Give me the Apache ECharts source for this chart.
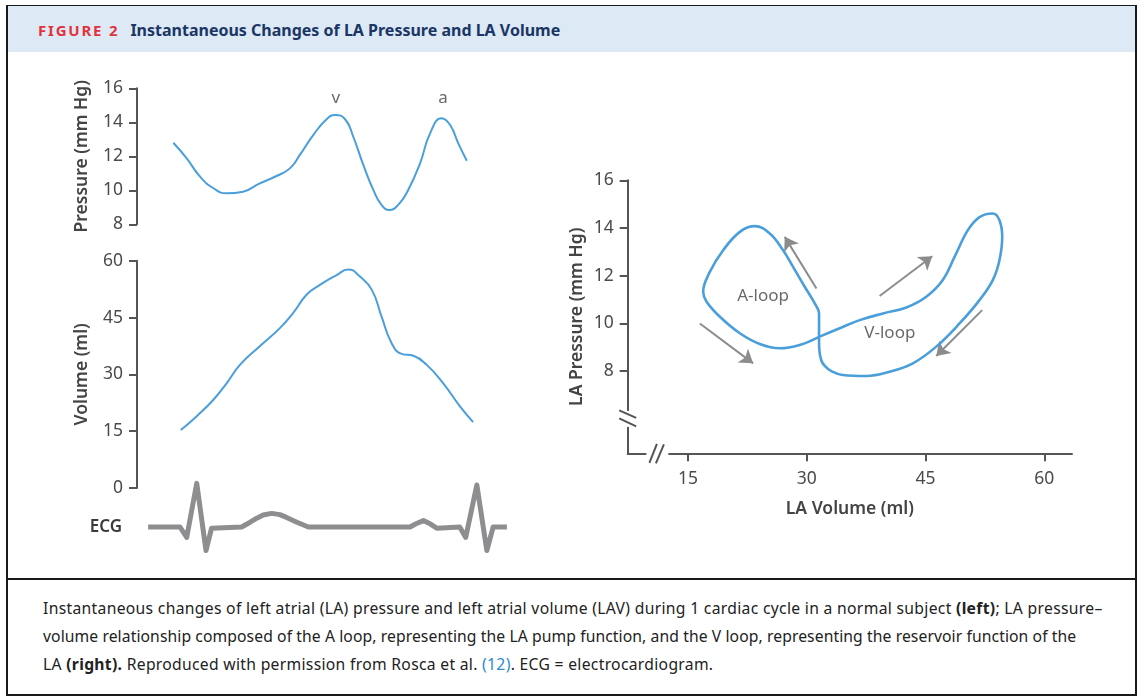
<!DOCTYPE html>
<html>
<head>
<meta charset="utf-8">
<script src="https://cdn.jsdelivr.net/npm/echarts@6.0.0/dist/echarts.min.js"></script>
<style>
html,body{margin:0;padding:0;background:#fff;width:1143px;height:699px;overflow:hidden;font-family:"Noto Sans",sans-serif;}
#frame{position:absolute;left:6px;top:5px;width:1127px;height:688px;border:2px solid #1a1a1a;border-top-width:1.5px;}
#band{position:absolute;left:0;top:0;right:0;height:45.5px;background:#dde9f5;}
#title{position:absolute;left:30px;top:0;height:45px;line-height:48px;white-space:nowrap;}
#fig{color:#e2323c;font-weight:700;font-size:15px;letter-spacing:1.8px;margin-right:11px;}
#ttl{color:#1b3665;font-weight:700;font-size:16px;}
#sep{position:absolute;left:0;right:0;top:572px;height:2px;background:#1a1a1a;}
#caption{position:absolute;left:35px;top:588px;font-size:15.7px;line-height:28px;color:#222;white-space:nowrap;}
#caption div{height:28px;}
#caption .l1{letter-spacing:0.31px;}
#caption .l2{letter-spacing:0.09px;}
#caption .l3{letter-spacing:0.30px;}
#caption b{font-weight:700;}
#caption .ref{color:#2b8ccc;}
#chart{position:absolute;left:0;top:0;width:1143px;height:699px;z-index:2;}
</style>
</head>
<body>
<div id="frame">
  <div id="band"><div id="title"><span id="fig">FIGURE 2</span><span id="ttl">Instantaneous Changes of LA Pressure and LA Volume</span></div></div>
  <div id="sep"></div>
  <div id="caption">
    <div class="l1">Instantaneous changes of left atrial (LA) pressure and left atrial volume (LAV) during 1 cardiac cycle in a normal subject <b>(left)</b>; LA pressure–</div>
    <div class="l2">volume relationship composed of the A loop, representing the LA pump function, and the V loop, representing the reservoir function of the</div>
    <div class="l3">LA <b>(right).</b> Reproduced with permission from Rosca et al. <span class="ref">(12)</span>. ECG = electrocardiogram.</div>
  </div>
</div>
<div id="chart"></div>
<script>
// ---- Left panel: time course over one cardiac cycle (time in ms) ----
const pressureTime = [98,134,170,206,242,286,331,376,412,439,475,511,534,561,583,610,637,659,680,704,731,763,790,821,844,866,889];
const pressureValues = [12.8,11.88,10.8,10.12,9.82,9.92,10.41,10.84,11.29,12.08,13.25,14.18,14.43,14.18,13.15,11.49,10.02,9.14,8.84,9.14,10.02,11.59,13.35,14.24,13.84,12.76,11.74];

const volumeTime = [118,161,206,242,278,331,385,421,457,493,538,569,601,633,659,686,713,745,781,825,870,906];
const volumeValues = [15.3,18.95,23.3,27.7,32.55,37.4,42.2,46.2,51.0,53.6,56.2,57.7,55.8,52.3,45.3,38.3,35.4,34.9,32.5,27.7,21.6,17.4];

const ecgTime = [30,116,134,161,186,201,282,305,323,340,363,385,403,431,462,736,752,772,790,808,870,886,916,943,960,997];
const ecgValues = [0,0,-0.26,1.09,-0.59,-0.03,0,0.12,0.22,0.3,0.34,0.31,0.24,0.12,0,0,0.08,0.16,0.08,-0.03,0,-0.26,1.05,-0.59,0,0];

const peakNames = ['v','a'];
const peakTime = [536,825];
const peakLevel = [15.43,15.43];

const pressureTickInterval = 2;
const volumeTickInterval = 15;

// ---- Right panel: LA pressure-volume loop ----
const loopVolume = [31.56,34.17,36.69,39.63,42.58,45.10,47.19,48.67,50.35,51.82,53.50,54.34,54.69,54.34,53.50,51.82,49.30,46.36,43.41,40.47,37.53,34.55,33.16,32.28,31.83,31.58,31.56,31.56,31.02,29.75,28.28,27.02,25.34,23.45,21.56,19.45,17.77,16.93,17.36,19.04,21.56,24.08,26.60,29.12,31.56];
const loopPressure = [9.44,9.80,10.14,10.42,10.67,11.12,11.82,12.79,13.91,14.46,14.61,14.33,13.63,12.65,11.82,10.98,10.00,9.03,8.33,7.98,7.80,7.84,7.99,8.22,8.47,8.97,9.44,10.42,10.84,11.54,12.37,13.07,13.77,14.08,13.84,13.07,12.16,11.33,10.91,10.28,9.59,9.14,8.96,9.10,9.44];

const arrowFromVolume = [16.51,31.23,39.21,52.16];
const arrowFromPressure = [10.00,11.47,11.15,10.56];
const arrowToVolume = [23.24,27.23,45.86,46.36];
const arrowToPressure = [8.33,13.63,12.82,8.64];

const loopNames = ['A-loop','V-loop'];
const loopNameVolume = [24.5,40.5];
const loopNamePressure = [11.15,9.6];

const loopVolumeTicks = [15,30,45,60];
const loopPressureTicks = [8,10,12,14,16];
const volumeBreak = 11.15;
const pressureBreak = 6.0;

// ---- styles ----
const BLUE = '#4a9fdb';
const AXIS = '#555555';
const FONT = '"Noto Sans", sans-serif';
const axisLineStyle = {show:true, lineStyle:{color:AXIS, width:2}};
const tickStyle = {show:true, length:8, lineStyle:{color:AXIS, width:2}};
const labelStyle = {color:'#4a4a4a', fontSize:17.5, fontFamily:FONT, margin:14};
const nameStyle = {color:'#444', fontSize:17.5, fontWeight:600, fontFamily:FONT};

const zip = (a,b) => a.map((v,i)=>[v,b[i]]);

const chart = echarts.init(document.getElementById('chart'), null, {renderer:'canvas'});
const option = {
  animation:false,
  grid:[
    {left:137, top:88.3, width:371, height:136, outerBoundsMode:'none'},
    {left:137, top:260.7, width:371, height:227.3, outerBoundsMode:'none'},
    {left:137, top:467, width:371, height:120, outerBoundsMode:'none'},
    {left:627.7, top:180.3, width:444.3, height:273, outerBoundsMode:'none'}
  ],
  xAxis:[
    {gridIndex:0, type:'value', min:0, max:1000, show:false},
    {gridIndex:1, type:'value', min:0, max:1000, show:false},
    {gridIndex:2, type:'value', min:0, max:1000, show:false},
    {gridIndex:3, type:'value', min:7.4, max:63.5,
     axisLine:{show:true, onZero:false, lineStyle:{color:AXIS, width:2}},
     axisTick:Object.assign({customValues:loopVolumeTicks}, tickStyle),
     axisLabel:Object.assign({customValues:loopVolumeTicks}, labelStyle, {margin:17}),
     splitLine:{show:false},
     name:'LA Volume (ml)', nameLocation:'middle', nameGap:47, nameTextStyle:nameStyle}
  ],
  yAxis:[
    {gridIndex:0, type:'value', min:8, max:16, interval:pressureTickInterval,
     axisLine:axisLineStyle, axisTick:tickStyle, axisLabel:labelStyle, splitLine:{show:false},
     name:'Pressure (mm Hg)', nameLocation:'middle', nameRotate:90, nameGap:46, nameTextStyle:nameStyle},
    {gridIndex:1, type:'value', min:0, max:60, interval:volumeTickInterval,
     axisLine:axisLineStyle, axisTick:tickStyle, axisLabel:labelStyle, splitLine:{show:false},
     name:'Volume (ml)', nameLocation:'middle', nameRotate:90, nameGap:46, nameTextStyle:nameStyle},
    {gridIndex:2, type:'value', min:-1.5, max:1.5,
     axisLine:{show:false}, axisTick:{show:false}, axisLabel:{show:false}, splitLine:{show:false},
     name:'ECG', nameLocation:'middle', nameRotate:0, nameGap:15,
     nameTextStyle:{color:'#3a3a3a', fontSize:17, fontWeight:600, fontFamily:FONT}},
    {gridIndex:3, type:'value', min:4.56, max:16,
     axisLine:{show:true, onZero:false, lineStyle:{color:AXIS, width:2}},
     axisTick:Object.assign({customValues:loopPressureTicks}, tickStyle),
     axisLabel:Object.assign({customValues:loopPressureTicks}, labelStyle),
     splitLine:{show:false},
     name:'LA Pressure (mm Hg)', nameLocation:'middle', nameRotate:90, nameGap:42, nameTextStyle:nameStyle}
  ],
  series:[
    {type:'line', xAxisIndex:0, yAxisIndex:0, data:zip(pressureTime, pressureValues), smooth:0.5,
     showSymbol:false, lineStyle:{color:BLUE, width:2}},
    {type:'scatter', xAxisIndex:0, yAxisIndex:0, symbolSize:1, itemStyle:{color:'rgba(0,0,0,0)'},
     data:peakNames.map((n,i)=>({name:n, value:[peakTime[i], peakLevel[i]]})),
     label:{show:true, position:'inside', formatter:'{b}', color:'#444', fontSize:17, fontFamily:FONT}},
    {type:'line', xAxisIndex:1, yAxisIndex:1, data:zip(volumeTime, volumeValues), smooth:0.5,
     showSymbol:false, lineStyle:{color:BLUE, width:2}},
    {type:'line', xAxisIndex:2, yAxisIndex:2, data:zip(ecgTime, ecgValues), smooth:false,
     showSymbol:false, lineStyle:{color:'#8e8e91', width:5, join:'round', cap:'butt'}},
    {type:'line', xAxisIndex:3, yAxisIndex:3, data:zip(loopVolume, loopPressure), smooth:0.4,
     showSymbol:false, lineStyle:{color:BLUE, width:2.6}},
    {type:'lines', coordinateSystem:'cartesian2d', xAxisIndex:3, yAxisIndex:3,
     symbol:['none','arrow'], symbolSize:[10,13],
     lineStyle:{color:'#8c8c8c', width:2, opacity:1, curveness:0},
     data:arrowFromVolume.map((v,i)=>({coords:[[v, arrowFromPressure[i]],[arrowToVolume[i], arrowToPressure[i]]]}))},
    {type:'scatter', xAxisIndex:3, yAxisIndex:3, symbolSize:1, itemStyle:{color:'rgba(0,0,0,0)'},
     data:loopNames.map((n,i)=>({name:n, value:[loopNameVolume[i], loopNamePressure[i]]})),
     label:{show:true, position:'inside', formatter:'{b}', color:'#444', fontSize:17, fontFamily:FONT}}
  ]
};
chart.setOption(option);

// axis break marks on the loop chart, positioned from the axis scales
const xb = chart.convertToPixel({gridIndex:3}, [volumeBreak, 4.56]);
const yb = chart.convertToPixel({gridIndex:3}, [7.4, pressureBreak]);
const slashStyle = {stroke:AXIS, lineWidth:2};
chart.setOption({graphic:[
  {type:'rect', shape:{x:yb[0]-4, y:yb[1]-8, width:8, height:16}, style:{fill:'#fff'}, z:100},
  {type:'line', shape:{x1:yb[0]-8.5, y1:yb[1]-8.5, x2:yb[0]+8.5, y2:yb[1]-1}, style:slashStyle, z:101},
  {type:'line', shape:{x1:yb[0]-8.5, y1:yb[1]-0.5, x2:yb[0]+8.5, y2:yb[1]+7.5}, style:slashStyle, z:101},
  {type:'rect', shape:{x:xb[0]-11, y:xb[1]-4, width:22, height:8}, style:{fill:'#fff'}, z:100},
  {type:'line', shape:{x1:xb[0]-8, y1:xb[1]+9.5, x2:xb[0]-0.5, y2:xb[1]-9.5}, style:slashStyle, z:101},
  {type:'line', shape:{x1:xb[0]-1.5, y1:xb[1]+10, x2:xb[0]+6.5, y2:xb[1]-9}, style:slashStyle, z:101}
]});
</script>
</body>
</html>
